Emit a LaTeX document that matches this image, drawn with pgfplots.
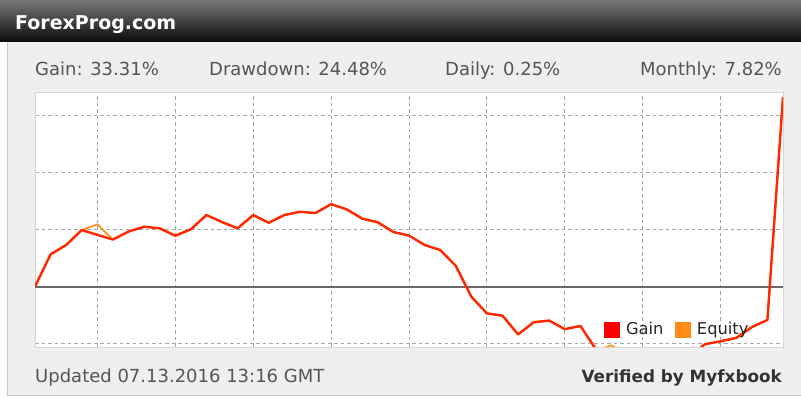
\documentclass[border=0pt]{standalone}
\usepackage{pgfplots}
\pgfplotsset{compat=1.18}
\usepackage{fontspec}
\setmainfont{DejaVu Sans}
\definecolor{gaincol}{RGB}{255,40,0}
\definecolor{eqcol}{RGB}{255,150,40}
\definecolor{legred}{RGB}{255,0,0}
\definecolor{legorange}{RGB}{255,140,20}
\definecolor{panelbg}{RGB}{239,239,239}
\definecolor{bordercol}{RGB}{200,200,200}
\definecolor{plotborder}{RGB}{214,214,214}
\definecolor{gridcol}{RGB}{165,165,165}
\definecolor{zerocol}{RGB}{105,105,105}
\definecolor{stattext}{RGB}{85,85,85}
\definecolor{footbold}{RGB}{51,51,51}
\definecolor{bartop}{RGB}{120,120,120}
\definecolor{barbottom}{RGB}{10,10,10}
\begin{document}
\begin{tikzpicture}
\useasboundingbox (0bp,0bp) rectangle (801bp,403bp);
\fill[white] (0bp,0bp) rectangle (801bp,403bp);
\fill[panelbg] (7bp,7bp) rectangle (801bp,361bp);
\draw[bordercol, line width=1bp] (7.5bp,7bp) -- (7.5bp,361bp);
\draw[bordercol, line width=1bp] (7bp,7.5bp) -- (801bp,7.5bp);
\shade[top color=bartop, bottom color=barbottom] (0bp,361bp) rectangle (801bp,403bp);
\node[anchor=base west, inner sep=0pt, text=white, font=\fontsize{19bp}{21bp}\selectfont\bfseries] at (15bp,373bp) {ForexProg.com};
\begin{scope}[every node/.style={inner sep=0pt, text=stattext, font=\fontsize{18bp}{20bp}\selectfont}]
\node[anchor=base west] at (35bp,327bp) {Gain: 33.31\%};
\node[anchor=base west] at (209bp,327bp) {Drawdown: 24.48\%};
\node[anchor=base west] at (445bp,327bp) {Daily: 0.25\%};
\node[anchor=base east] at (782bp,327bp) {Monthly: 7.82\%};
\node[anchor=base west] at (35bp,21bp) {Updated 07.13.2016 13:16 GMT};
\end{scope}
\node[anchor=base east, inner sep=0pt, text=footbold, font=\fontsize{16.8bp}{19bp}\selectfont\bfseries] at (782bp,21bp) {Verified by Myfxbook};
\begin{axis}[
  at={(35bp,56bp)}, anchor=south west,
  width=748bp, height=255bp, scale only axis,
  xmin=0, xmax=48, ymin=-10.6, ymax=34.2,
  xtick={4,9,...,44}, ytick={-10,10,20,30},
  extra y ticks={0}, extra y tick labels={},
  extra y tick style={grid=major, major grid style={solid, draw=zerocol, line width=1.8bp}},
  xticklabels={}, yticklabels={}, major tick length=0pt,
  grid=major,
  major grid style={draw=gridcol, line width=0.9bp, dash pattern=on 3.5bp off 3bp},
  axis line style={draw=plotborder, line width=0.8bp},
  axis background/.style={fill=white},
  legend columns=2,
  legend image code/.code={\fill[#1] (0bp,-7.5bp) rectangle (15bp,7.5bp);},
  legend style={at={(0.76,0.069)}, anchor=west, draw=none, fill=none, inner sep=0pt,
    font=\fontsize{16.3bp}{18bp}\selectfont, text=black!85,
    nodes={inner sep=0pt},
    /tikz/every odd column/.append style={column sep=7bp},
    /tikz/every even column/.append style={column sep=11bp}},
]
\addlegendimage{legred, fill=legred}
\addlegendentry{Gain}
\addlegendimage{legorange, fill=legorange}
\addlegendentry{Equity}
\addplot[forget plot, eqcol, line width=1.8bp, line join=round] coordinates {
(0,0) (1,5.68) (2,7.32) (3,9.95) (4,10.95) (5,8.28) (6,9.68) (7,10.53) (8,10.25) (9,8.95)
(10,10.07) (11,12.58) (12,11.35) (13,10.25) (14,12.58) (15,11.23) (16,12.58) (17,13.16) (18,12.93) (19,14.5)
(20,13.58) (21,11.96) (22,11.3) (23,9.6) (24,8.98) (25,7.32) (26,6.44) (27,3.67) (28,-1.75) (29,-4.7)
(30,-5.1) (31,-8.39) (32,-6.25) (33,-5.96) (34,-7.47) (35,-6.9) (36,-11.2) (37,-10.3) (38,-12.0) (39,-13.0)
(40,-12.7) (41,-12.4) (42,-12.3) (43,-10.1) (44,-9.6) (45,-9.0) (46,-7.1) (47,-5.85) (48,33.31)
};
\addplot[forget plot, gaincol, line width=2.4bp, line join=round] coordinates {
(0,0) (1,5.68) (2,7.32) (3,9.95) (4,9.1) (5,8.28) (6,9.68) (7,10.53) (8,10.25) (9,8.95)
(10,10.07) (11,12.58) (12,11.35) (13,10.25) (14,12.58) (15,11.23) (16,12.58) (17,13.16) (18,12.93) (19,14.5)
(20,13.58) (21,11.96) (22,11.3) (23,9.6) (24,8.98) (25,7.32) (26,6.44) (27,3.67) (28,-1.75) (29,-4.7)
(30,-5.1) (31,-8.39) (32,-6.25) (33,-5.96) (34,-7.47) (35,-6.9) (36,-11.0) (37,-12.3) (38,-13.4) (39,-13.0)
(40,-12.7) (41,-12.4) (42,-12.3) (43,-10.1) (44,-9.6) (45,-9.0) (46,-7.1) (47,-5.85) (48,33.31)
};
\end{axis}
\end{tikzpicture}
\end{document}
